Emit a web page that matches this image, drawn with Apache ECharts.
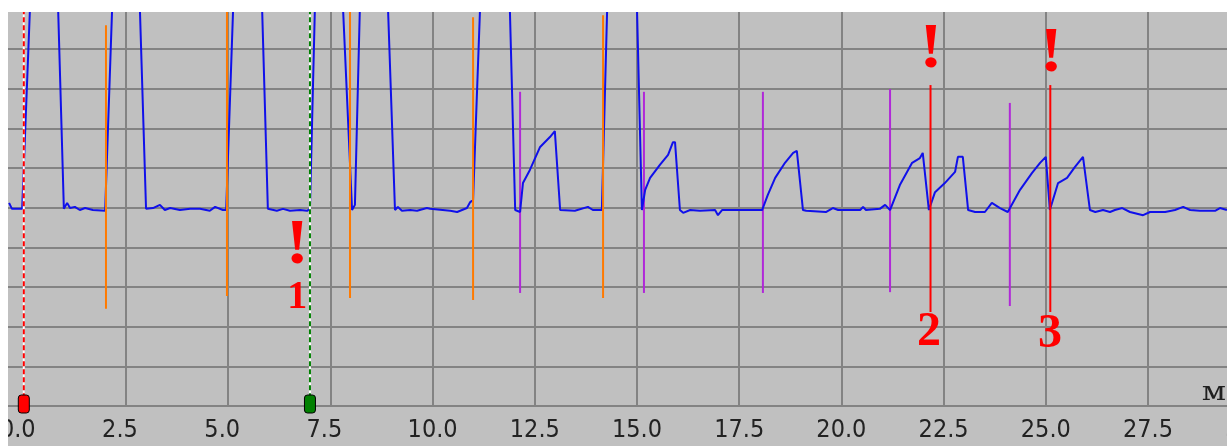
<!DOCTYPE html>
<html>
<head>
<meta charset="utf-8">
<script src="https://cdn.jsdelivr.net/npm/echarts@6/dist/echarts.min.js"></script>
<style>
  html, body { margin: 0; padding: 0; background: #fff; width: 1227px; height: 446px; overflow: hidden; }
  #panel { position: absolute; left: 8px; top: 12px; width: 1219px; height: 434px; background: #c0c0c0; overflow: hidden; }
  #chart { width: 1219px; height: 434px; }
</style>
</head>
<body>
<div id="panel"><div id="chart"></div></div>
<script>
// trace (distance, level)
var signalX = [-0.36, -0.29, -0.04, 0.15, 0.84, 0.98, 1.06, 1.13, 1.25, 1.37, 1.50, 1.69, 1.99, 2.16,
  2.84, 2.99, 3.16, 3.33, 3.45, 3.58, 3.82, 4.07, 4.31, 4.55, 4.68, 4.87, 4.95, 5.12,
  5.83, 5.97, 6.19, 6.34, 6.51, 6.76, 6.93, 7.00, 7.12,
  7.81, 8.03, 8.10, 8.22, 8.91, 9.08, 9.15, 9.25, 9.45, 9.62, 9.86, 9.94, 10.43, 10.60, 10.84, 10.92, 10.99, 11.16,
  11.89, 12.02, 12.14, 12.21, 12.38, 12.63, 12.87, 12.99, 13.12, 13.48, 13.80, 13.92, 14.14, 14.27,
  15.00, 15.12, 15.20, 15.32, 15.56, 15.76, 15.88, 15.93, 16.05, 16.13, 16.30, 16.54, 16.91, 16.98, 17.08, 17.52,
  18.06, 18.20, 18.38, 18.62, 18.82, 18.91, 19.06, 19.14, 19.62, 19.79, 19.92, 20.46, 20.53, 20.60, 20.94, 21.07,
  21.19, 21.43, 21.73, 21.92, 21.99, 22.14, 22.29, 22.53, 22.78, 22.85, 22.97, 23.10,
  23.27, 23.51, 23.68, 23.88, 24.07, 24.37, 24.66, 24.86, 25.00, 25.10, 25.30, 25.52, 25.71, 25.91, 26.08,
  26.21, 26.40, 26.57, 26.69, 26.87, 27.06, 27.38, 27.55, 27.92, 28.16, 28.36, 28.53, 28.77, 29.14, 29.26, 29.43];
var signalY = [5.12, 4.97, 4.97, 10, 10, 4.97, 5.12, 4.99, 5.02, 4.94, 4.99, 4.94, 4.92, 10,
  10, 4.97, 4.99, 5.07, 4.94, 4.99, 4.94, 4.97, 4.97, 4.92, 5.02, 4.94, 4.94, 10,
  10, 4.97, 4.92, 4.97, 4.92, 4.94, 4.92, 4.97, 10,
  10, 4.94, 5.07, 10, 10, 4.94, 5.02, 4.92, 4.94, 4.92, 4.99, 4.97, 4.92, 4.89, 4.99, 5.14, 5.19, 10,
  10, 4.94, 4.89, 5.62, 5.95, 6.53, 6.78, 6.93, 4.94, 4.92, 5.02, 4.94, 4.94, 10,
  10, 4.94, 5.45, 5.75, 6.08, 6.33, 6.65, 6.65, 4.94, 4.87, 4.94, 4.92, 4.94, 4.81, 4.94, 4.94,
  4.94, 5.32, 5.75, 6.13, 6.38, 6.43, 4.94, 4.92, 4.89, 4.99, 4.94, 4.94, 5.02, 4.94, 4.97, 5.07,
  4.94, 5.57, 6.13, 6.25, 6.38, 4.94, 5.39, 5.62, 5.90, 6.28, 6.28, 4.94,
  4.89, 4.89, 5.12, 4.99, 4.89, 5.45, 5.87, 6.13, 6.28, 4.94, 5.62, 5.75, 6.02, 6.28, 4.94,
  4.89, 4.94, 4.89, 4.94, 4.99, 4.89, 4.81, 4.89, 4.89, 4.94, 5.02, 4.94, 4.92, 4.92, 4.99, 4.94];

// orange event spikes
var orangeX = [2.01, 4.97, 7.98, 10.99, 14.17];
var orangeTop = [9.6, 10, 10, 9.8, 9.85];
var orangeBottom = [2.45, 2.77, 2.72, 2.67, 2.72];

// purple event spikes
var purpleX = [12.14, 15.17, 18.08, 21.19, 24.12];
var purpleTop = [7.92, 7.92, 7.92, 7.99, 7.64];
var purpleBottom = [2.85, 2.85, 2.85, 2.87, 2.52];

// red alarm lines
var alarmX = [22.18, 25.11];
var alarmTop = [8.09, 8.09];
var alarmBottom = [2.37, 2.37];

// cursors
var cursorX = [0, 7.0];

// annotations
var noteX = [6.69, 6.69, 22.19, 22.14, 25.13, 25.10];
var noteY = [4.03, 2.72, 8.95, 1.84, 8.85, 1.81];
var noteText = ['!', '1', '!', '2', '!', '3'];

var xMin = -2.5, xMax = 30, xStep = 2.5;

var chart = echarts.init(document.getElementById('chart'));

function spikeSeries(xs, tops, bottoms, color, z) {
  return {
    type: 'custom',
    z: z,
    silent: true,
    data: xs.map(function (x, i) { return [x, tops[i], bottoms[i]]; }),
    encode: { x: 0, y: [1, 2] },
    renderItem: function (params, api) {
      var a = api.coord([api.value(0), api.value(1)]);
      var b = api.coord([api.value(0), api.value(2)]);
      return {
        type: 'line',
        shape: { x1: a[0], y1: a[1], x2: b[0], y2: b[1] },
        style: { stroke: color, lineWidth: 2 }
      };
    }
  };
}

var cursorColors = ['#ff0000', '#008000'];

var option = {
  animation: false,
  grid: { left: -86.4, right: -23.2, top: -2.7, bottom: 40, containLabel: false, outerBoundsMode: 'none' },
  xAxis: {
    type: 'value',
    min: xMin,
    max: xMax,
    interval: xStep,
    axisLine: { show: true, lineStyle: { color: '#838383', width: 2 } },
    axisTick: { show: false },
    splitLine: { show: true, lineStyle: { color: '#838383', width: 2 } },
    axisLabel: {
      margin: 12,
      fontFamily: '"Liberation Sans Narrow", "DejaVu Sans Condensed", sans-serif',
      fontSize: 25,
      color: '#222',
      formatter: function (v) {
        var s = v.toFixed(1);
        return s.length < 4 ? s + '{p| }' : s;
      },
      rich: { p: { width: 12 } }
    }
  },
  yAxis: {
    type: 'value',
    min: 0,
    max: 10,
    interval: 1,
    axisLine: { show: false },
    axisTick: { show: false },
    axisLabel: { show: false },
    splitLine: { show: true, lineStyle: { color: '#838383', width: 2 } }
  },
  graphic: [{
    type: 'text',
    right: 1,
    top: 368,
    scaleX: 1.2,
    style: { text: 'м', font: '26px "DejaVu Serif"', fill: '#202020' }
  }],
  series: [
    spikeSeries(purpleX, purpleTop, purpleBottom, '#b028d8', 2),
    {
      type: 'line',
      z: 3,
      data: signalX.map(function (x, i) { return [x, signalY[i]]; }),
      showSymbol: false,
      silent: true,
      lineStyle: { color: '#1010ea', width: 2 }
    },
    spikeSeries(orangeX, orangeTop, orangeBottom, '#ff7a00', 4),
    spikeSeries(alarmX, alarmTop, alarmBottom, '#ff0000', 5),
    {
      type: 'custom',
      z: 6,
      silent: true,
      data: cursorX.map(function (x) { return [x]; }),
      encode: { x: 0 },
      renderItem: function (params, api) {
        var color = cursorColors[params.dataIndex];
        var top = api.coord([api.value(0), 10]);
        var bot = api.coord([api.value(0), 0]);
        return {
          type: 'group',
          children: [
            { type: 'line', shape: { x1: top[0], y1: top[1], x2: bot[0], y2: bot[1] },
              style: { stroke: '#ffffff', lineWidth: 2 } },
            { type: 'line', shape: { x1: top[0], y1: top[1], x2: bot[0], y2: bot[1] },
              style: { stroke: color, lineWidth: 2, lineDash: [5, 3] } },
            { type: 'rect', shape: { x: bot[0] - 5.5, y: bot[1] - 11, width: 11, height: 18, r: 3 },
              style: { fill: color, stroke: '#000', lineWidth: 1 } }
          ]
        };
      }
    },
    {
      type: 'custom',
      z: 7,
      silent: true,
      data: noteX.map(function (x, i) { return [x, noteY[i], noteText[i]]; }),
      encode: { x: 0, y: 1 },
      renderItem: function (params, api) {
        var p = api.coord([api.value(0), api.value(1)]);
        var t = noteText[params.dataIndex];
        var bang = t === '!';
        var size = bang ? 44 : (t === '1' ? 40 : 48);
        return {
          type: 'text',
          x: p[0],
          y: p[1],
          scaleX: bang ? 1.6 : 1,
          scaleY: bang ? 1.45 : 1,
          style: {
            text: t,
            font: 'bold ' + size + 'px "Liberation Serif", serif',
            fill: '#ff0000',
            align: 'center',
            verticalAlign: 'middle'
          }
        };
      }
    }
  ]
};

chart.setOption(option);
</script>
</body>
</html>
